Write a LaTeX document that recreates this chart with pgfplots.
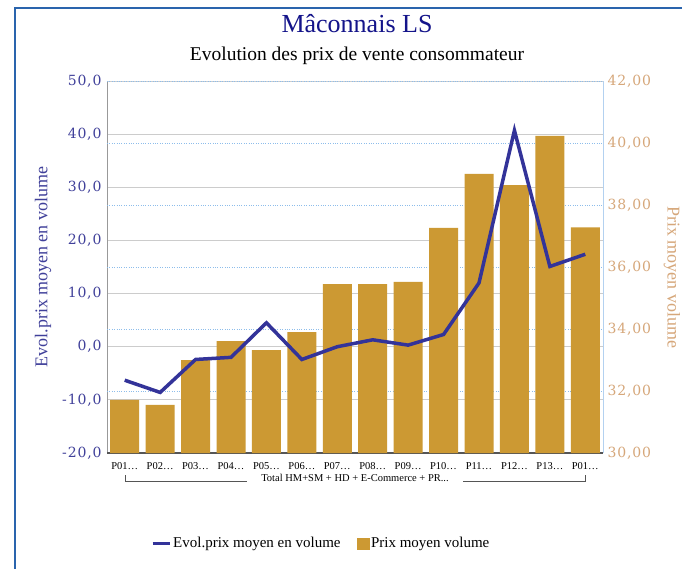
\documentclass[border=0pt]{standalone}
\usepackage{fontspec}
\setmainfont{Liberation Serif}
\newfontfamily\tickfont[LetterSpace=6]{DejaVu Serif}
\usepackage{pgfplots}
\pgfplotsset{compat=1.18}

\definecolor{barc}{HTML}{CC9933}
\definecolor{linec}{HTML}{333399}
\definecolor{leftc}{HTML}{40409A}
\definecolor{rightc}{HTML}{D6A77A}
\definecolor{titlec}{HTML}{14148A}
\definecolor{framec}{HTML}{2A64AD}
\definecolor{gridc}{HTML}{CCCCCC}
\definecolor{dotgridc}{HTML}{8DBDEB}
\definecolor{leftaxc}{HTML}{999999}
\definecolor{bottomc}{HTML}{555555}
\definecolor{rightaxc}{HTML}{B3D1F0}

% common geometry of the three stacked axes
\pgfplotsset{
  base/.style={
    at={(107pt,115pt)}, anchor=south west,
    scale only axis, width=496pt, height=372pt,
    xmin=-0.5, xmax=13.5,
    major tick length=0pt,
    /pgf/number format/assume math mode=true,
    /pgf/number format/use comma,
    /pgf/number format/1000 sep={},
  }
}

\begin{document}
\begin{tikzpicture}[x=1pt,y=1pt]
\useasboundingbox (0,0) rectangle (682,568);
\clip (0,0) rectangle (682,568);
\fill[white] (0,0) rectangle (682,568);
\draw[framec, line width=2] (15,-5) -- (15,560) -- (690,560);

\node[anchor=base, font=\fontsize{26}{30}\selectfont, text=titlec] at (357,535) {Mâconnais LS};
\node[anchor=base, font=\fontsize{19.5}{23}\selectfont] at (357,507) {Evolution des prix de vente consommateur};

% left scale: solid grid and left axis
\begin{axis}[base,
  ymin=-20, ymax=50, ytick={-20,-10,...,50},
  ymajorgrids, grid style={gridc, line width=0.8pt},
  axis x line*=bottom, axis y line*=left,
  xtick=\empty,
  x axis line style={-, bottomc, line width=1.2pt},
  y axis line style={-, leftaxc, line width=1pt},
  yticklabel style={font=\tickfont\fontsize{14}{14}\selectfont, text=leftc, xshift=-2pt,
    /pgf/number format/fixed, /pgf/number format/fixed zerofill,
    /pgf/number format/precision=1},
  ylabel={Evol.prix moyen en volume},
  ylabel style={at={(axis description cs:-0.129,0.5)}, anchor=center,
    font=\fontsize{18}{20}\selectfont, text=leftc},
]
\end{axis}

% right scale: bars
\begin{axis}[base,
  ymin=30, ymax=42, ytick={30,32,...,42},
  ymajorgrids, grid style={dotgridc, dotted, line width=0.9pt},
  axis x line*=bottom, axis y line*=right,
  x axis line style={-, bottomc, line width=1.2pt},
  y axis line style={-, rightaxc, line width=1pt},
  xtick={0,...,13},
  xticklabels={P01…,P02…,P03…,P04…,P05…,P06…,P07…,P08…,P09…,P10…,P11…,P12…,P13…,P01…},
  xticklabel style={font=\fontsize{10.5}{12}\selectfont, yshift=-6pt},
  yticklabel style={font=\tickfont\fontsize{14}{14}\selectfont, text=rightc, xshift=1pt,
    /pgf/number format/fixed, /pgf/number format/fixed zerofill,
    /pgf/number format/precision=2},
  ylabel={Prix moyen volume},
  ylabel style={at={(axis description cs:1.139,0.473)}, anchor=center, rotate=180,
    font=\fontsize{18}{20}\selectfont, text=rightc},
  ybar, bar width=29pt,
]
\addplot[fill=barc, draw=none, bar shift=0pt] coordinates {
  (0,31.71) (1,31.55) (2,33.00) (3,33.61) (4,33.32) (5,33.90) (6,35.45)
  (7,35.45) (8,35.52) (9,37.26) (10,39.00) (11,38.64) (12,40.23) (13,37.28)};
\end{axis}

% left scale: line and legend
\begin{axis}[base,
  ymin=-20, ymax=50, hide axis,
  legend image code/.code={\draw[#1, line width=3pt] (0pt,0pt) -- (17pt,0pt);},
  legend style={draw=none, fill=none, at={(0.432,-0.243)}, anchor=center,
    font=\fontsize{15}{18}\selectfont, legend columns=2,
    /tikz/every even column/.append style={column sep=14pt}},
]
\addplot[linec, line width=3.5pt, line join=miter] coordinates {
  (0,-6.3) (1,-8.6) (2,-2.4) (3,-2.0) (4,4.5) (5,-2.4) (6,0.0)
  (7,1.3) (8,0.3) (9,2.3) (10,12.0) (11,40.7) (12,15.1) (13,17.4)};
\addlegendentry{Evol.prix moyen en volume}
\addlegendimage{legend image code/.code={\fill[barc] (0pt,-5.5pt) rectangle (12pt,5.5pt);}}
\addlegendentry{Prix moyen volume}
\end{axis}

\draw[bottomc, line width=0.8] (125,93) -- (125,87) -- (247,87);
\draw[bottomc, line width=0.8] (463,87) -- (585,87) -- (585,93);
\node[font=\fontsize{10.5}{12}\selectfont] at (355,90) {Total HM+SM + HD + E-Commerce + PR...};
\end{tikzpicture}
\end{document}
